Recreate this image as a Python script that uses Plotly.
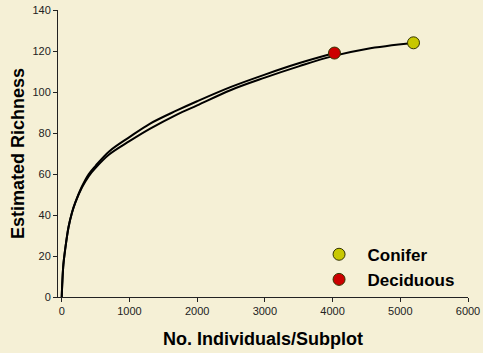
import plotly.graph_objects as go

# Rarefaction curves
decid_x = [0, 10, 25, 50, 100, 150, 200, 300, 400, 500, 700, 1000, 1300, 1700, 2000, 2500, 3000, 3500, 4028]
decid_y = [0, 8, 16, 23, 34, 41, 46, 54, 60, 64, 71, 78, 84.5, 91, 95.5, 102.5, 108.5, 114, 119]
conif_x = [0, 10, 25, 50, 100, 150, 200, 300, 400, 500, 700, 1000, 1300, 1700, 2000, 2500, 3000, 3500, 4000, 4500, 5200]
conif_y = [0, 8, 16, 23, 34, 41, 46, 53.5, 59, 63, 69.5, 76, 82, 89, 93.5, 101, 107, 112.5, 117.5, 121, 124]

# End points
end_names = ["Conifer", "Deciduous"]
end_x = [5195, 4028]
end_y = [124, 119]
end_colors = ["#C8C800", "#CC0000"]

x_ticks = [0, 1000, 2000, 3000, 4000, 5000, 6000]
y_ticks = [0, 20, 40, 60, 80, 100, 120, 140]

bg = "#F5F0D6"

fig = go.Figure()
for xs, ys in [(decid_x, decid_y), (conif_x, conif_y)]:
    fig.add_trace(go.Scatter(x=xs, y=ys, mode="lines", line=dict(color="black", width=2, shape="spline"),
                             showlegend=False, hoverinfo="skip"))
for name, xx, yy, c in zip(end_names, end_x, end_y, end_colors):
    fig.add_trace(go.Scatter(x=[xx], y=[yy], mode="markers", name="<b>" + name + "</b>",
                             marker=dict(color=c, size=12, line=dict(color="#333300", width=1))))

fig.update_layout(
    width=483, height=353,
    margin=dict(l=58, r=15, t=10, b=56, autoexpand=False),
    paper_bgcolor=bg, plot_bgcolor=bg,
    font=dict(family="Liberation Sans, Arial", color="#222"),
    showlegend=True,
    legend=dict(x=0.616, y=0.21, xanchor="left", yanchor="top", bgcolor="rgba(0,0,0,0)",
                font=dict(size=17, color="black", family="Liberation Sans, Arial"),
                itemwidth=47, tracegroupgap=0),
    xaxis=dict(range=[-55, 6000], tickvals=x_ticks, showgrid=False, zeroline=False, automargin=False,
               showline=True, linecolor="#222", linewidth=1, ticks="outside", ticklen=4,
               tickcolor="#222", tickfont=dict(size=11),
               title=dict(text="<b>No. Individuals/Subplot</b>", font=dict(size=18, color="black"), standoff=16)),
    yaxis=dict(range=[0, 140], tickvals=y_ticks, showgrid=False, zeroline=False, automargin=False,
               showline=True, linecolor="#222", linewidth=1, ticks="outside", ticklen=4,
               tickcolor="#222", tickfont=dict(size=11),
               title=dict(text="<b>Estimated Richness</b>", font=dict(size=18, color="black"), standoff=3)),
)

fig.write_html("out.html")
